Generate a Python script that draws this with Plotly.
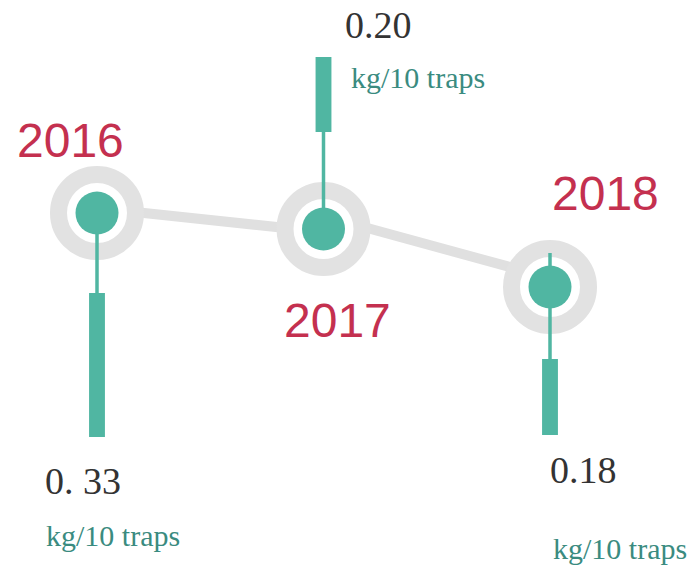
import plotly.graph_objects as go

# ---- data ----
years = [2016, 2017, 2018]
values = [0.33, 0.20, 0.18]
value_labels = ["0. 33", "0.20", "0.18"]
year_labels = ["2016", "2017", "2018"]
unit_label = "kg/10 traps"

# ---- layout geometry (infographic, y in screen-like units, top = 0) ----
node_y = [213, 229, 287]
seg_y = [(208, 232), (216, 278)]          # connector segments between nodes
bar_top = [293, 57, 359]
bar_bottom = [437, 132, 435]
stem_from = [214, 132, 253]
stem_to = [293, 229, 359]

year_pos = [(-27, 140), (14, 320), (55, 193)]      # (x pixel offset, y)
value_pos = [(-14, 481), (55, 25), (33, 470)]
unit_pos = [(16, 535), (94, 77), (70, 548)]

TEAL = "#50b6a2"
RING = "#e2e2e2"
LINE = "#e0e0e0"
CRIMSON = "#c4304f"
DARK = "#333333"
UNIT_C = "#3a8b80"

W, H = 693, 566

fig = go.Figure()

# connector line
for i in range(len(years) - 1):
    fig.add_trace(go.Scatter(x=[years[i], years[i + 1]], y=list(seg_y[i]), mode="lines",
                             line=dict(color=LINE, width=10), hoverinfo="skip"))

# rings
fig.add_trace(go.Scatter(x=years, y=node_y, mode="markers",
                         marker=dict(size=77, color="white", line=dict(color=RING, width=17)),
                         hoverinfo="skip"))

# stems
for i, yr in enumerate(years):
    fig.add_trace(go.Scatter(x=[yr, yr], y=[stem_from[i], stem_to[i]], mode="lines",
                             line=dict(color=TEAL, width=3.5), hoverinfo="skip"))

# bars
fig.add_trace(go.Bar(x=years, base=bar_top,
                     y=[b - t for t, b in zip(bar_top, bar_bottom)],
                     width=0.07, marker=dict(color=TEAL, line=dict(width=0)),
                     customdata=values, hovertemplate="%{x}: %{customdata} kg/10 traps<extra></extra>"))

# dots
fig.add_trace(go.Scatter(x=years, y=node_y, mode="markers",
                         marker=dict(size=43, color=TEAL, line=dict(width=0)),
                         customdata=values, hovertemplate="%{x}: %{customdata}<extra></extra>"))

annotations = []
for i, yr in enumerate(years):
    annotations.append(dict(x=yr, y=year_pos[i][1], xshift=year_pos[i][0], text=year_labels[i],
                            showarrow=False, xanchor="center", yanchor="middle",
                            font=dict(family="Liberation Sans", size=48, color=CRIMSON)))
    annotations.append(dict(x=yr, y=value_pos[i][1], xshift=value_pos[i][0], text=value_labels[i],
                            showarrow=False, xanchor="center", yanchor="middle",
                            font=dict(family="Liberation Serif", size=38, color=DARK)))
    annotations.append(dict(x=yr, y=unit_pos[i][1], xshift=unit_pos[i][0], text=unit_label,
                            showarrow=False, xanchor="center", yanchor="middle",
                            font=dict(family="Liberation Serif", size=30, color=UNIT_C)))

fig.update_layout(
    width=W, height=H,
    margin=dict(l=0, r=0, t=0, b=0),
    paper_bgcolor="white", plot_bgcolor="white",
    showlegend=False,
    xaxis=dict(range=[2016 - 97 / 226.5, 2018 + (W - 550) / 226.5],
               visible=False, fixedrange=True),
    yaxis=dict(range=[H, 0], visible=False, fixedrange=True),
    annotations=annotations,
    barmode="overlay",
)

fig.write_html("out.html", config={"displayModeBar": False},
               post_script="document.body.style.margin='0';document.body.style.overflow='hidden';")
